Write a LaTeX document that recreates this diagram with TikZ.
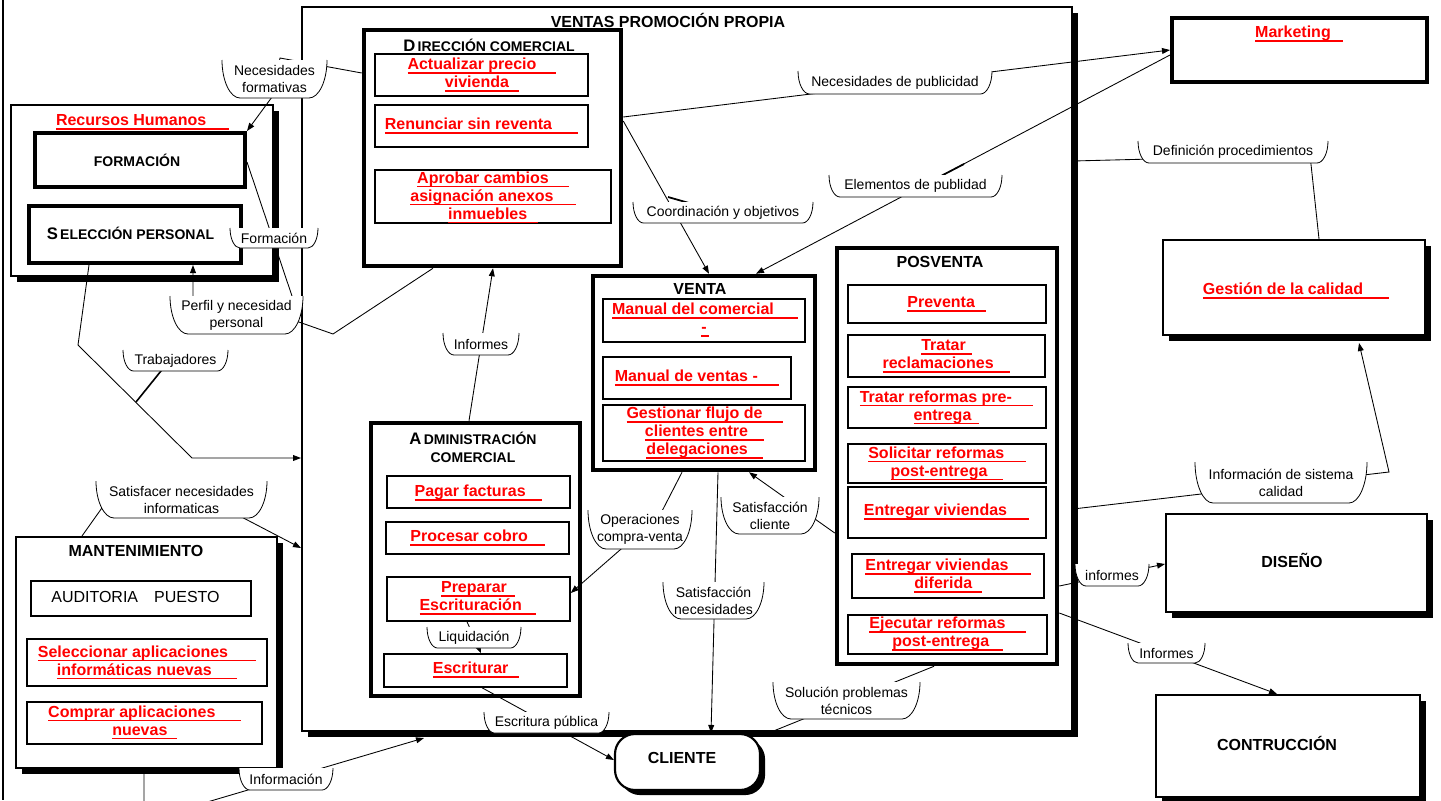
\documentclass[tikz,border=0pt]{standalone}
\usepackage{fontspec}
\setmainfont{Liberation Sans}
\usetikzlibrary{arrows.meta,shadows,calc}

\newcommand\redu[2]{\leavevmode\setbox0=\hbox{#1\hspace{#2}}\rlap{\raisebox{-3.1pt}{\rule{\wd0}{1.25pt}}}\box0}

\newcommand\bx[6]{%
  \pgfmathsetmacro\bxW{(#5-#3)*0.75}%
  \pgfmathsetmacro\bxH{(#6-#4)*0.75}%
  \node[#1, minimum width=\bxW pt, minimum height=\bxH pt] (#2) at ({(#3+#5)/2},{(#4+#6)/2}) {};}

\newcommand\callout[6]{%
  \pgfmathsetmacro\clXa{#2}\pgfmathsetmacro\clYa{#3}%
  \pgfmathsetmacro\clXb{#4}\pgfmathsetmacro\clYb{#5}%
  \pgfmathsetmacro\clH{#5-#3}\pgfmathsetmacro\clR{min(0.5*\clH,18)}%
  \pgfmathsetmacro\clYc{#3+0.55*\clH}%
  \pgfmathsetmacro\clXc{#2+0.45*\clR}\pgfmathsetmacro\clXd{#2+\clR}%
  \pgfmathsetmacro\clXe{#4-0.45*\clR}\pgfmathsetmacro\clXf{#4-\clR}%
  \fill[white] (\clXa,\clYa) .. controls (\clXa,\clYc) and (\clXc,\clYb) .. (\clXd,\clYb) -- (\clXf,\clYb) .. controls (\clXe,\clYb) and (\clXb,\clYc) .. (\clXb,\clYa) -- cycle;
  \draw[lblline] (\clXa,\clYa) .. controls (\clXa,\clYc) and (\clXc,\clYb) .. (\clXd,\clYb) -- (\clXf,\clYb) .. controls (\clXe,\clYb) and (\clXb,\clYc) .. (\clXb,\clYa);
  \node[lblt] (#1) at ({(#2+#4)/2},{(#3+#5)/2}) {#6};}

\begin{document}
\begin{tikzpicture}[x=0.75pt,y=-0.75pt,
  conn/.style={line width=0.65pt, draw=black},
  arr/.style={conn, -{Triangle[length=6pt,width=4.4pt]}},
  thinbox/.style={draw, line width=1.5pt, fill=white, inner sep=0pt},
  subbox/.style={draw, line width=1.1pt, fill=white, inner sep=0pt},
  thickbox/.style={draw, line width=3.4pt, fill=white, inner sep=0pt},
  midbox/.style={draw, line width=3pt, fill=white, inner sep=0pt},
  shbox/.style={thinbox, drop shadow={shadow xshift=4.2pt, shadow yshift=-4.2pt, fill=black, opacity=1}},
  clibox/.style={draw, line width=1.6pt, fill=white, inner sep=0pt, rounded corners=15pt, drop shadow={shadow xshift=3.8pt, shadow yshift=-3.8pt, fill=black, opacity=1}},
  redt/.style={text=red, font=\bfseries\fontsize{12}{13.5}\selectfont, align=center, inner sep=0pt, yshift=-1.5pt},
  ttl/.style={font=\bfseries\fontsize{12}{14}\selectfont, inner sep=0pt, align=center},
  sct/.style={font=\bfseries\fontsize{10.5}{13.5}\selectfont, inner sep=0pt, align=center},
  lblt/.style={font=\fontsize{10.5}{12.75}\selectfont, align=center, inner sep=0.5pt},
  lblline/.style={line width=0.6pt},
]
\useasboundingbox (0,0) rectangle (1441,800);
\fill[white] (0,0) rectangle (1441,800);
\draw[line width=0.8pt] (3,0) -- (3,800);

% ---------- main box
\bx{shbox}{main}{302}{7}{1072}{731}
\node[ttl] (tmain) at (668,20) {VENTAS PROMOCIÓN PROPIA};

% ---------- Recursos humanos
\bx{shbox}{rh}{11}{105}{273}{276}
\node[redt] (trh) at (142.5,120) {\redu{Recursos Humanos}{17pt}};
\bx{midbox}{formacion}{35}{133}{245}{187}
\node[font=\bfseries\fontsize{10.5}{12}\selectfont, inner sep=0pt] (tform) at (137,160) {FORMACIÓN};
\bx{midbox}{sel}{29}{206}{241}{263}
\node[sct] (tsel) at (130.5,233) {{\fontsize{12.5}{13.5}\selectfont S}\,ELECCIÓN PERSONAL};

% ---------- Direccion comercial
\bx{thickbox}{dir}{364}{30}{621}{266}
\node[sct] (tdir) at (489,45) {{\fontsize{12.5}{13.5}\selectfont D}\,IRECCIÓN COMERCIAL};
\bx{subbox}{d1}{375}{54}{588}{96}
\node[redt] (td1) at (482,73) {\redu{Actualizar precio}{15pt}\\\redu{vivienda}{7.5pt}};
\bx{subbox}{d2}{375}{105}{588}{147}
\node[redt] (td2) at (481.5,124) {\redu{Renunciar sin reventa}{19.5pt}};
\bx{subbox}{d3}{375}{170}{611}{223}
\node[redt] (td3) at (493,195.5) {\redu{Aprobar cambios}{15pt}\\\redu{asignación anexos}{16.5pt}\\\redu{inmuebles}{8pt}};

% ---------- Venta
\bx{thickbox}{venta}{593}{276}{815}{470}
\node[ttl] (tventa) at (700,289) {VENTA};
\bx{subbox}{v1}{603}{299}{805}{342}
\node[redt] (tv1) at (705,318) {\redu{Manual del comercial}{18pt}\\\redu{-}{1.5pt}};
\bx{subbox}{v2}{603}{357}{791}{399}
\node[redt] (tv2) at (697,376) {\redu{Manual de ventas -}{16pt}};
\bx{subbox}{v3}{603}{405}{805}{461}
\node[redt] (tv3) at (704.5,431) {\redu{Gestionar flujo de}{15pt}\\\redu{clientes entre}{12pt}\\\redu{delegaciones}{11pt}};

% ---------- Posventa
\bx{thickbox}{posv}{837}{248}{1057}{664}
\node[ttl] (tposv) at (940,262) {POSVENTA};
\bx{subbox}{p1}{848}{285}{1046}{323}
\node[redt] (tp1) at (946.5,302) {\redu{Preventa}{8pt}};
\bx{subbox}{p2}{848}{335}{1045}{377}
\node[redt] (tp2) at (946.5,354.5) {\redu{Tratar}{4.5pt}\\\redu{reclamaciones}{12.5pt}};
\bx{subbox}{p3}{848}{387}{1046}{428}
\node[redt] (tp3) at (946.5,405.5) {\redu{Tratar reformas pre-}{16pt}\\\redu{entrega}{6pt}};
\bx{subbox}{p4}{848}{444}{1046}{483}
\node[redt] (tp4) at (947,461.5) {\redu{Solicitar reformas}{16pt}\\\redu{post-entrega}{12pt}};
\bx{subbox}{p5}{848}{487}{1046}{538}
\node[redt] (tp5) at (946.5,510) {\redu{Entregar viviendas}{16.5pt}};
\bx{subbox}{p6}{852}{554}{1044}{598}
\node[redt] (tp6) at (948,574) {\redu{Entregar viviendas}{16.5pt}\\\redu{diferida}{7pt}};
\bx{subbox}{p7}{848}{615}{1047}{654}
\node[redt] (tp7) at (947.5,632) {\redu{Ejecutar reformas}{15pt}\\\redu{post-entrega}{10pt}};

% ---------- Administracion comercial
\bx{thickbox}{adm}{371}{423}{580}{696}
\node[sct] (tadm) at (473,447) {{\fontsize{12.5}{13.5}\selectfont A}\,DMINISTRACIÓN\\COMERCIAL};
\bx{subbox}{a1}{387}{476}{570}{508}
\node[redt] (ta1) at (478.5,491) {\redu{Pagar facturas}{12.5pt}};
\bx{subbox}{a2}{386}{522}{569}{554}
\node[redt] (ta2) at (477.5,536) {\redu{Procesar cobro}{12.5pt}};
\bx{subbox}{a3}{387}{577}{570}{621}
\node[redt] (ta3) at (478,596.5) {\redu{Preparar}{6pt}\\\redu{Escrituración}{11pt}};
\bx{subbox}{a4}{384}{654}{567}{687}
\node[redt] (ta4) at (476,668) {\redu{Escriturar}{8pt}};

% ---------- Mantenimiento
\bx{shbox}{mant}{16}{537}{277}{768}
\node[ttl] (tmant) at (136,551) {MANTENIMIENTO};
\bx{subbox}{m1}{31}{581}{251}{616}
\node[font=\fontsize{12}{14}\selectfont, inner sep=0pt] (tm1) at (135.5,597) {AUDITORIA\hspace{12pt}PUESTO};
\bx{subbox}{m2}{27}{639}{267}{686}
\node[redt] (tm2) at (147,660.5) {\redu{Seleccionar aplicaciones}{21pt}\\\redu{informáticas nuevas}{19pt}};
\bx{subbox}{m3}{27}{702}{262}{744}
\node[redt] (tm3) at (144.5,720.5) {\redu{Comprar aplicaciones}{19pt}\\\redu{nuevas}{7pt}};

% ---------- right column
\bx{midbox}{mkt}{1172}{18}{1427}{82}
\node[redt] (tmkt) at (1299,32) {\redu{Marketing}{9pt}};
\bx{shbox}{gest}{1163}{240}{1425}{335}
\node[redt] (tgest) at (1296,289) {\redu{Gestión de la calidad}{19.5pt}};
\bx{shbox}{dis}{1166}{514}{1427}{612}
\node[ttl] (tdis) at (1292,560) {DISEÑO};
\bx{shbox}{con}{1156}{695}{1420}{797}
\node[ttl] (tcon) at (1277,743) {CONTRUCCIÓN};
\bx{clibox}{cli}{615}{734}{760}{790}
\node[ttl] (tcli) at (682,758) {CLIENTE};

% ---------- connectors
\draw[arr] (dir.east |- 0,117) -- (mkt.west |- 0,50);
\draw[arr] (mkt.west |- 0,55) -- (venta.north -| 756,0);
\draw[arr] (dir.east |- 0,121) -- (venta.north -| 709,0);
\draw[line width=1.3pt] (668,197) -- (689,203);
\draw[line width=1.3pt] (941,176) -- (964,164);
\draw[conn] (main.east |- 0,161) -- (1310,155) -- (gest.north -| 1319,0);
\coordinate (gestbot) at (1359,343);
\draw[arr] (main.east |- 0,509) -- (1389,472) -- (gestbot);
\draw[arr] (posv.east |- 0,586) -- (dis.west |- 0,564);
\draw[arr] (posv.east |- 0,613) -- (con.north -| 1277,0);
\draw[arr] (posv.west |- 0,533) -- (venta.south -| 749,0);
\draw[conn] (posv.south -| 934,0) -- (main.south -| 771,0);
\draw[arr] (venta.south -| 718,0) -- (cli.north -| 711,0);
\draw[arr] (venta.south -| 682,0) -- (660,515) -- (a3.east |- 0,593);
\draw[arr] (a4.south -| 482,0) -- (cli.west |- 0,760);
\draw[arr] (a3.south -| 467,0) -- (a4.north -| 481,0);
\draw[arr] (adm.north -| 469,0) -- (dir.south -| 493,0);
\draw[arr] (dir.west |- 0,73) -- (280,58) -- (272,97) -- (formacion.north east);
\coordinate (fend) at (294,302);
\draw[conn] (formacion.east |- 0,162) -- (fend);
\draw[arr] (dir.south -| 433,0) -- (333,334) -- (296,321) -- (193,312) -- (sel.south -| 193,0);
\draw[arr] (sel.south -| 89,0) -- (78,345) -- (192,458) -- (main.west |- 0,458);
\coordinate (tjoin) at (136,402);
\coordinate (tlab) at (165,366);
\draw[line width=1.2pt] (tlab) -- (tjoin);
\draw[arr] (mant.north -| 82,0) -- (104,505) -- (232,512) -- (main.west |- 0,548);
\coordinate (mainbot) at (424,738);
\draw[arr] (mant.south -| 144,0) -- (144,808) -- (187,808) -- (mainbot);

% ---------- connector labels
\callout{nf}{222}{60}{327}{98}{Necesidades\\formativas}
\callout{lform}{230}{228}{318}{248}{Formación}
\callout{perfil}{170}{296}{303}{334}{Perfil y necesidad\\personal}
\callout{trab}{123}{350}{228}{371}{Trabajadores}
\callout{inf1}{443}{333}{519}{355}{Informes}
\callout{satinf}{96}{481}{267}{518}{Satisfacer necesidades\\informaticas}
\callout{liq}{427}{627}{521}{648}{Liquidación}
\callout{escp}{484}{712}{609}{733}{Escritura pública}
\callout{infor}{239}{768}{333}{790}{Información}
\callout{opcv}{588}{510}{692}{549}{Operaciones\\compra-venta}
\callout{satnec}{663}{582}{764}{619}{Satisfacción\\necesidades}
\callout{satcli}{721}{497}{819}{534}{Satisfacción\\cliente}
\callout{sol}{773}{682}{920}{719}{Solución problemas\\técnicos}
\callout{npub}{798}{71}{992}{94}{Necesidades de publicidad}
\callout{elem}{829}{175}{1002}{197}{Elementos de publidad}
\callout{coord}{633}{202}{813}{223}{Coordinación y objetivos}
\callout{defp}{1138}{141}{1328}{163}{Definición procedimientos}
\callout{infsis}{1195}{462}{1367}{503}{Información de sistema\\calidad}
\callout{infm}{1075}{564}{1149}{586}{informes}
\callout{infm2}{1128}{643}{1205}{663}{Informes}
\end{tikzpicture}
\end{document}
